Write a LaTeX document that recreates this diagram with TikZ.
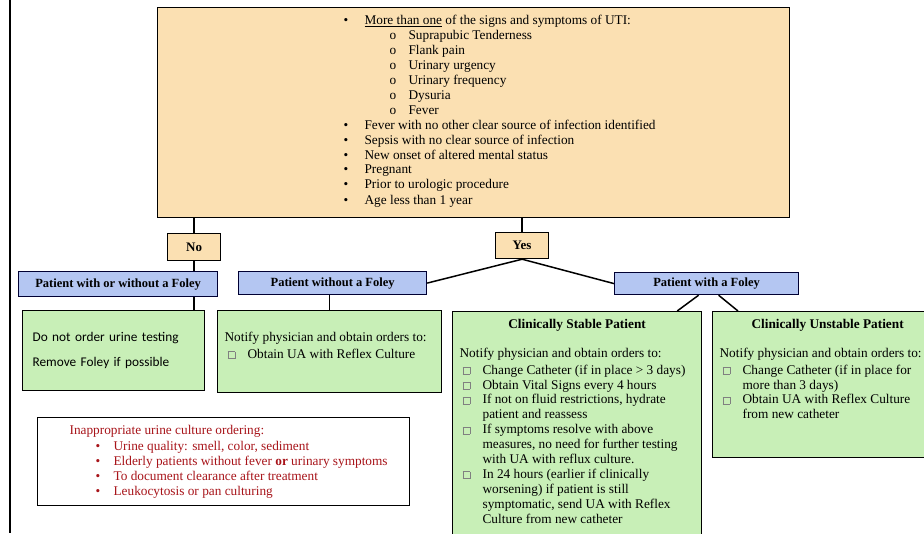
\documentclass[tikz,border=0pt]{standalone}
\usepackage{fontspec}
\setmainfont{Liberation Serif}
\newfontfamily\calibri{Carlito}
\definecolor{uticolor}{HTML}{FBE0B2}
\definecolor{foleycolor}{HTML}{B4C6F2}
\definecolor{ordercolor}{HTML}{C8EFB7}
\definecolor{warncolor}{HTML}{A8141A}
\newcommand{\boxbody}[3]{\begin{minipage}[c][#2][t]{#1}#3\end{minipage}}
\newcommand{\chk}{\textcolor{gray}{\fboxsep=0pt\fboxrule=0.5pt\fbox{\rule{0pt}{6.5pt}\rule{6.5pt}{0pt}}}}
\newcommand{\chkitem}[1]{\noindent\hangindent=23pt\hangafter=1\hspace*{3pt}\makebox[20pt][l]{\chk}#1\par}
\newcommand{\utiitem}[1]{\hspace*{178pt}\makebox[21pt][l]{\textbullet}#1\par}
\newcommand{\utisub}[1]{\hspace*{224pt}\makebox[19pt][l]{o}#1\par}
\newcommand{\warnitem}[1]{\hspace*{50pt}\makebox[18pt][l]{\textbullet}#1\par}
\usetikzlibrary{positioning}
\tikzset{
	every node/.style={font=\fontsize{13.3}{14.9}\selectfont, anchor=north west}, % boxes are placed by their top left corner
	box/.style={draw, line width=1.2pt, inner xsep=8pt, inner ysep=8pt}, % frame of every box
	question/.style={box, fill=uticolor}, % the UTI criteria
	answer/.style={box, fill=uticolor, inner sep=0pt, minimum width=53pt, font=\fontsize{13}{15}\selectfont\bfseries}, % No / Yes
	foley/.style={draw=black!80!blue, line width=1.2pt, fill=foleycolor, inner sep=0pt, font=\fontsize{12.5}{14}\selectfont\bfseries}, % patient groups
	order/.style={box, fill=ordercolor, inner xsep=7pt}, % what to do
	warn/.style={box, fill=white, text=warncolor}, % the red box
	link/.style={line width=1.5pt}, % connectors
}
\begin{document}
\begin{tikzpicture}[x=1pt, y=-1pt]
	\path[use as bounding box, fill=white] (0,0) rectangle (924,533);
	\draw[line width=1.2pt] (10,0) -- (10,533);

	\node[question] (uti) at (157,7) {\boxbody{616pt}{194pt}{%
		\utiitem{\underline{More than one} of the signs and symptoms of UTI:}
		\utisub{Suprapubic Tenderness}
		\utisub{Flank pain}
		\utisub{Urinary urgency}
		\utisub{Urinary frequency}
		\utisub{Dysuria}
		\utisub{Fever}
		\utiitem{Fever with no other clear source of infection identified}
		\utiitem{Sepsis with no clear source of infection}
		\utiitem{New onset of altered mental status}
		\utiitem{Pregnant}
		\utiitem{Prior to urologic procedure}
		\vspace{1pt}
		\utiitem{Age less than 1 year}}};

	\node[answer, minimum height=27pt] (no) at (167,233) {No};
	\node[answer, minimum height=26pt] (yes) at (495,232) {Yes};

	\node[foley, minimum width=199pt, minimum height=25pt] (anyfoley) at (18,271) {Patient with or without a Foley};
	\node[foley, minimum width=188pt, minimum height=23pt] (nofoley) at (238,271) {Patient without a Foley};
	\node[foley, minimum width=184pt, minimum height=22pt] (foley) at (614,272) {Patient with a Foley};

	\node[box, fill=ordercolor, inner xsep=10pt, inner ysep=0pt, text width=162pt, align=left, minimum height=80pt, font=\calibri\fontsize{13.3}{14}\selectfont] (donot) at (22,310)
		{Do not order urine testing\\[11pt]Remove Foley if possible};
	\node[order] (ua) at (217,310) {\boxbody{210pt}{66pt}{%
		\vspace*{14pt}Notify physician and obtain orders to:\par
		\vspace{1.5pt}
		\chkitem{Obtain UA with Reflex Culture}}};
	\node[order] (stable) at (452,311) {\boxbody{235pt}{218pt}{\raggedright
		{\centering\bfseries Clinically Stable Patient\par}
		\vspace{13.5pt}
		Notify physician and obtain orders to:\par
		\vspace{2pt}
		\chkitem{Change Catheter (if in place > 3 days)}
		\chkitem{Obtain Vital Signs every 4 hours}
		\chkitem{If not on fluid restrictions, hydrate\newline patient and reassess}
		\chkitem{If symptoms resolve with above\newline measures, no need for further testing\newline with UA with reflux culture.}
		\chkitem{In 24 hours (earlier if clinically\newline worsening) if patient is still\newline symptomatic, send UA with Reflex\newline Culture from new catheter}}};
	\node[order] (unstable) at (712,311) {\boxbody{216pt}{130pt}{\raggedright
		{\centering\bfseries Clinically Unstable Patient\par}
		\vspace{13.5pt}
		Notify physician and obtain orders to:\par
		\vspace{2pt}
		\chkitem{Change Catheter (if in place for\newline more than 3 days)}
		\chkitem{Obtain UA with Reflex Culture\newline from new catheter}}};

	\node[warn] (inappropriate) at (37,417) {\boxbody{356pt}{72pt}{\fontsize{13.3}{15.2}\selectfont
		\hspace*{24pt}Inappropriate urine culture ordering:\par
		\warnitem{Urine quality: smell, color, sediment}
		\warnitem{Elderly patients without fever \textbf{or} urinary symptoms}
		\warnitem{To document clearance after treatment}
		\warnitem{Leukocytosis or pan culturing}}};

	\draw[link] (uti.south -| no.north) -- (no.north);
	\draw[link] (no.south) -- (no.south |- anyfoley.north);
	\draw[link] (no.south |- anyfoley.south) -- (no.south |- donot.north);
	\draw[link] (uti.south -| yes.north) -- (yes.north);
	\draw[link] (yes.south) -- (nofoley.east);
	\draw[link] (yes.south) -- (foley.west);
	\draw[link] (ua.north |- nofoley.south) -- (ua.north);
	\draw[link] ([xshift=-8pt]foley.south) -- ([xshift=-25pt]stable.north east);
	\draw[link] ([xshift=12pt]foley.south) -- ([xshift=26pt]unstable.north west);
\end{tikzpicture}
\end{document}
